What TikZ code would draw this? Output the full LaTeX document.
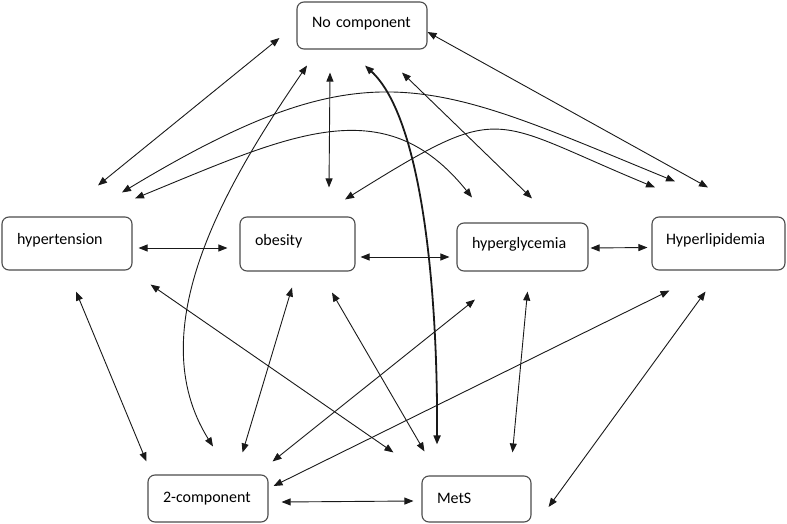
\documentclass[tikz,border=0pt]{standalone}
\usepackage{fontspec}
\setmainfont{Carlito}
\usetikzlibrary{arrows.meta}
\begin{document}
\begin{tikzpicture}[x=1pt,y=-1pt,
        box/.style={draw=black!70,line width=1.1pt,rounded corners=7pt,align=left,inner xsep=15pt,
            text height=11pt,text depth=9pt,font=\fontsize{16}{19}\selectfont},
        link/.style={{Triangle[length=9pt,width=7pt]}-{Triangle[length=9pt,width=7pt]},line width=0.9pt,black!90}]
        \useasboundingbox (0,0) rectangle (787,524);
        \node[box,text width=100pt,minimum height=47pt,text depth=7pt] (noc) at (362,25.5) {No component};
        \node[box,text width=100pt,minimum height=53pt] (hyp) at (67,243.5) {hypertension};
        \node[box,text width=85pt,minimum height=54pt] (obe) at (297.5,244) {obesity};
        \node[box,text width=101pt,minimum height=48pt] (hgl) at (522.5,247) {hyperglycemia};
        \node[box,text width=105pt,minimum height=53pt,inner xsep=14pt] (hlp) at (718.5,243.5) {Hyperlipidemia};
        \node[box,text width=90pt,minimum height=47pt,text depth=3pt] (tc) at (208,498.5) {2-component};
        \node[box,text width=79pt,minimum height=46pt,text depth=3pt] (mets) at (476.5,499) {MetS};
        \draw[link] ([shift={(31,-31)}]hyp.north) -- ([shift={(-17,12.5)}]noc.west);
        \draw[link] ([shift={(-32,23)}]noc.south) -- ([shift={(31.5,-29)}]obe.north);
        \draw[link] ([shift={(40,23)}]noc.south) -- ([shift={(9.5,-24)}]hgl.north);
        \draw[link] ([shift={(0,6.5)}]noc.east) -- ([shift={(-10.5,-29)}]hlp.north);
        \draw[link] ([shift={(-55,16)}]noc.south) .. controls (225,185) and (140,330) .. ([shift={(5,-28)}]tc.north);
        \draw[link,line width=1.8pt] ([shift={(3,16)}]noc.south) .. controls (422,118) and (438,290) .. ([shift={(-39.5,-31)}]mets.north);
        \draw[link] ([shift={(55,-24)}]hyp.north) .. controls (370,43) and (430,81) .. ([shift={(-43.5,-35)}]hlp.north);
        \draw[link] ([shift={(68,-18)}]hyp.north) .. controls (290,135) and (384,88) .. ([shift={(-50.5,-25)}]hgl.north);
        \draw[link] ([shift={(47.5,-17)}]obe.north) .. controls (505,100) and (487,118) .. ([shift={(-63.5,-29)}]hlp.north);
        \draw[link] ([shift={(6,4.5)}]hyp.east) -- ([shift={(-12,4)}]obe.west);
        \draw[link] ([shift={(5,13)}]obe.east) -- ([shift={(-7,10)}]hgl.west);
        \draw[link] ([shift={(2,1)}]hgl.east) -- ([shift={(-4,4)}]hlp.west);
        \draw[link] ([shift={(9,21)}]hyp.south) -- ([shift={(-1,-13)}]tc.north west);
        \draw[link] ([shift={(18,14)}]hyp.south east) -- ([shift={(-28,-23)}]mets.north west);
        \draw[link] ([shift={(-5.5,16)}]obe.south) -- ([shift={(-26,-22)}]tc.north east);
        \draw[link] ([shift={(34.5,21)}]obe.south) -- ([shift={(3,-24)}]mets.north west);
        \draw[link] ([shift={(-47.5,28)}]hgl.south) -- ([shift={(4,-13)}]tc.north east);
        \draw[link] ([shift={(18,20)}]hlp.south west) -- ([shift={(5,-12.5)}]tc.east);
        \draw[link] ([shift={(5,20)}]hgl.south) -- ([shift={(36,-23)}]mets.north);
        \draw[link] ([shift={(-13,21)}]hlp.south) -- ([shift={(17,8)}]mets.east);
        \draw[link] ([shift={(13,3.5)}]tc.east) -- ([shift={(-8,2)}]mets.west);
    \end{tikzpicture}
\end{document}
